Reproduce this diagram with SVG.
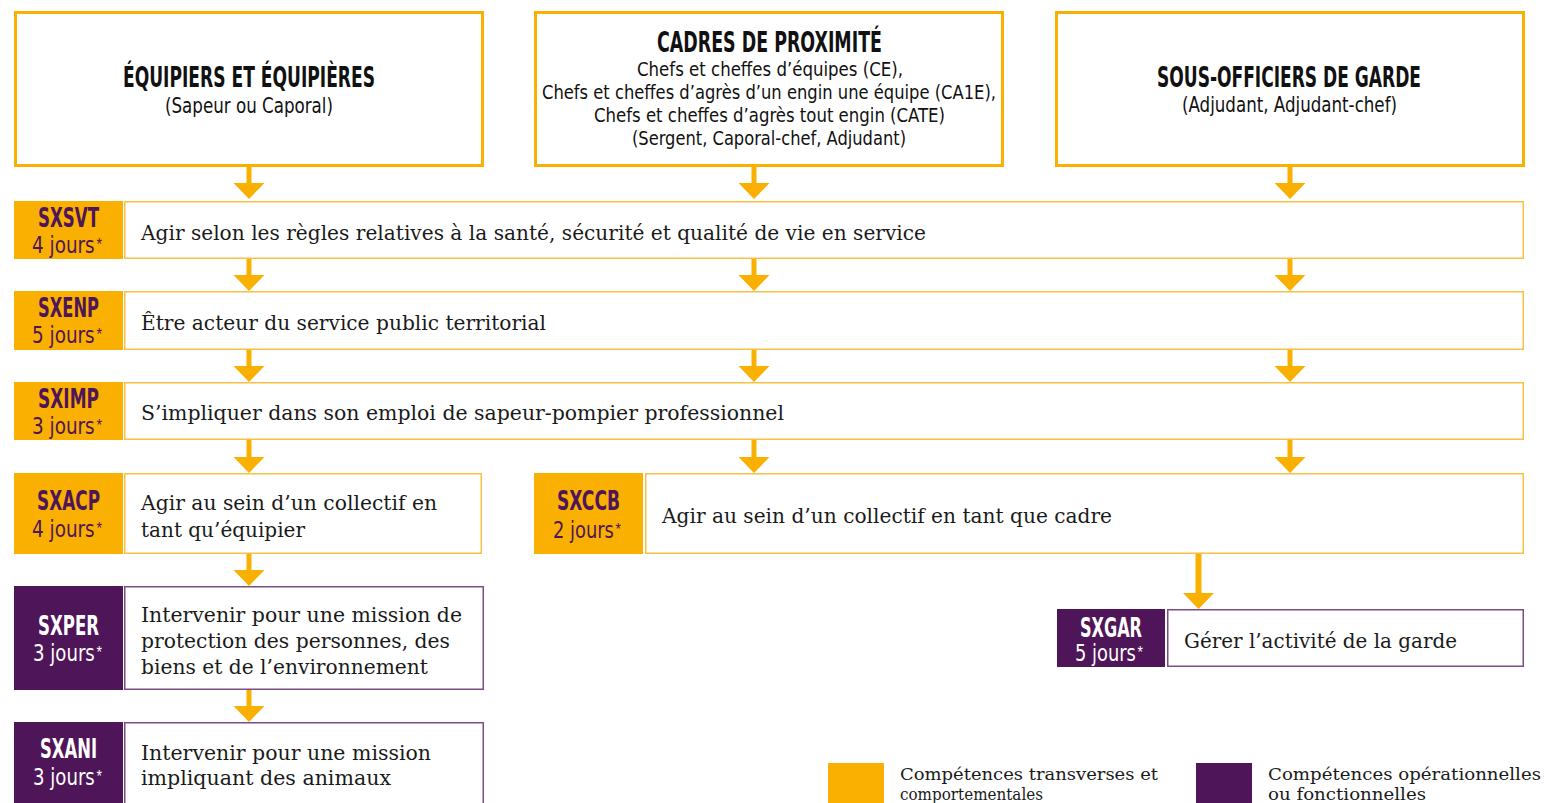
<svg xmlns="http://www.w3.org/2000/svg" width="1544" height="803" viewBox="0 0 1544 803">
<style>
.bg{fill:#ffffff}
.top{fill:#ffffff;stroke:#F9B000;stroke-width:3}
.lo{fill:#F9B000}
.lp{fill:#4F1559}
.to{fill:#ffffff;stroke:#F9C043;stroke-width:1.5}
.tp{fill:#ffffff;stroke:#7B4C86;stroke-width:1.5}
.h{font-family:"Liberation Sans Narrow","DejaVu Sans Condensed","Liberation Sans",sans-serif;font-weight:bold;fill:#111111;text-anchor:middle}
.s{font-family:"Liberation Sans Narrow","DejaVu Sans Condensed","Liberation Sans",sans-serif;fill:#111111;text-anchor:middle}
.code{font-family:"Liberation Sans Narrow","DejaVu Sans Condensed","Liberation Sans",sans-serif;font-weight:bold;font-size:26px}
.days{font-family:"Liberation Sans Narrow","DejaVu Sans Condensed","Liberation Sans",sans-serif;font-size:23px}
.ast{font-family:"Liberation Sans",sans-serif;font-size:16px}
.po{fill:#4F1559}
.pw{fill:#ffffff}
.b{font-family:"DejaVu Serif","Liberation Serif",serif;font-size:20px;fill:#1a1a1a}
.lg{font-family:"DejaVu Serif","Liberation Serif",serif;font-size:17px;fill:#1a1a1a}
.c{stroke:#F9B000;stroke-width:5;fill:none}
</style>
<defs>
<marker id="ah" markerUnits="userSpaceOnUse" markerWidth="16" markerHeight="31" refX="0" refY="15.5" orient="auto">
<path d="M0,0 L16,15.5 L0,31 Z" fill="#F9B000"/>
</marker>
</defs>
<rect class="bg" x="0" y="0" width="1544" height="803"/>

<g id="equipiers">
<rect class="top" x="15.5" y="12.5" width="467" height="153"/>
<text class="h" x="249" y="87" font-size="28" textLength="252" lengthAdjust="spacingAndGlyphs">ÉQUIPIERS ET ÉQUIPIÈRES</text>
<text class="s" x="249" y="113" font-size="21" textLength="168" lengthAdjust="spacingAndGlyphs">(Sapeur ou Caporal)</text>
</g>

<g id="cadres">
<rect class="top" x="535.5" y="12.5" width="467" height="153"/>
<text class="h" x="769.5" y="52" font-size="28" textLength="225" lengthAdjust="spacingAndGlyphs">CADRES DE PROXIMITÉ</text>
<text class="s" x="770" y="76" font-size="20" textLength="266" lengthAdjust="spacingAndGlyphs">Chefs et cheffes d’équipes (CE),</text>
<text class="s" x="769" y="99" font-size="20" textLength="454" lengthAdjust="spacingAndGlyphs">Chefs et cheffes d’agrès d’un engin une équipe (CA1E),</text>
<text class="s" x="769.5" y="122" font-size="20" textLength="351" lengthAdjust="spacingAndGlyphs">Chefs et cheffes d’agrès tout engin (CATE)</text>
<text class="s" x="769" y="145" font-size="20" textLength="274" lengthAdjust="spacingAndGlyphs">(Sergent, Caporal-chef, Adjudant)</text>
</g>

<g id="sousofficiers">
<rect class="top" x="1056.5" y="12.5" width="467" height="153"/>
<text class="h" x="1289" y="87" font-size="28" textLength="264" lengthAdjust="spacingAndGlyphs">SOUS-OFFICIERS DE GARDE</text>
<text class="s" x="1289.5" y="112" font-size="21" textLength="215" lengthAdjust="spacingAndGlyphs">(Adjudant, Adjudant-chef)</text>
</g>

<g id="sxsvt">
<rect class="lo" x="14" y="201" width="109" height="58"/>
<rect class="to" x="124.75" y="201.75" width="1398.5" height="56.5"/>
<text class="code po" x="68.5" y="227" text-anchor="middle" textLength="61" lengthAdjust="spacingAndGlyphs">SXSVT</text>
<text class="days po" x="32" y="253" textLength="70" lengthAdjust="spacingAndGlyphs">4 jours<tspan class="ast" dx="2" dy="-3">*</tspan></text>
<text class="b" x="141" y="240" textLength="785" lengthAdjust="spacingAndGlyphs">Agir selon les règles relatives à la santé, sécurité et qualité de vie en service</text>
</g>

<g id="sxenp">
<rect class="lo" x="14" y="291" width="109" height="59"/>
<rect class="to" x="124.75" y="291.75" width="1398.5" height="57.5"/>
<text class="code po" x="68.5" y="317" text-anchor="middle" textLength="61" lengthAdjust="spacingAndGlyphs">SXENP</text>
<text class="days po" x="32" y="343" textLength="70" lengthAdjust="spacingAndGlyphs">5 jours<tspan class="ast" dx="2" dy="-3">*</tspan></text>
<text class="b" x="141" y="330" textLength="405" lengthAdjust="spacingAndGlyphs">Être acteur du service public territorial</text>
</g>

<g id="sximp">
<rect class="lo" x="14" y="382" width="109" height="58"/>
<rect class="to" x="124.75" y="382.75" width="1398.5" height="56.5"/>
<text class="code po" x="68.5" y="408" text-anchor="middle" textLength="61" lengthAdjust="spacingAndGlyphs">SXIMP</text>
<text class="days po" x="32" y="434" textLength="70" lengthAdjust="spacingAndGlyphs">3 jours<tspan class="ast" dx="2" dy="-3">*</tspan></text>
<text class="b" x="141" y="420" textLength="643" lengthAdjust="spacingAndGlyphs">S’impliquer dans son emploi de sapeur-pompier professionnel</text>
</g>

<g id="sxacp">
<rect class="lo" x="14" y="473" width="109" height="81"/>
<rect class="to" x="124.75" y="473.75" width="356.5" height="79.5"/>
<text class="code po" x="68.5" y="510" text-anchor="middle" textLength="63" lengthAdjust="spacingAndGlyphs">SXACP</text>
<text class="days po" x="32" y="537" textLength="70" lengthAdjust="spacingAndGlyphs">4 jours<tspan class="ast" dx="2" dy="-3">*</tspan></text>
<text class="b" x="141" y="510" textLength="296" lengthAdjust="spacingAndGlyphs">Agir au sein d’un collectif en</text>
<text class="b" x="141" y="537" textLength="164" lengthAdjust="spacingAndGlyphs">tant qu’équipier</text>
</g>

<g id="sxccb">
<rect class="lo" x="534" y="473" width="109" height="81"/>
<rect class="to" x="645.75" y="473.75" width="877.5" height="79.5"/>
<text class="code po" x="588.5" y="510" text-anchor="middle" textLength="63" lengthAdjust="spacingAndGlyphs">SXCCB</text>
<text class="days po" x="553" y="538" textLength="68" lengthAdjust="spacingAndGlyphs">2 jours<tspan class="ast" dx="2" dy="-3">*</tspan></text>
<text class="b" x="662" y="523" textLength="450" lengthAdjust="spacingAndGlyphs">Agir au sein d’un collectif en tant que cadre</text>
</g>

<g id="sxper">
<rect class="lp" x="14" y="586" width="109" height="104"/>
<rect class="tp" x="124.75" y="586.75" width="358.5" height="102.5"/>
<text class="code pw" x="68.5" y="635" text-anchor="middle" textLength="61" lengthAdjust="spacingAndGlyphs">SXPER</text>
<text class="days pw" x="33" y="661" textLength="69" lengthAdjust="spacingAndGlyphs">3 jours<tspan class="ast" dx="2" dy="-3">*</tspan></text>
<text class="b" x="141" y="622" textLength="321" lengthAdjust="spacingAndGlyphs">Intervenir pour une mission de</text>
<text class="b" x="141" y="648" textLength="309" lengthAdjust="spacingAndGlyphs">protection des personnes, des</text>
<text class="b" x="141" y="674" textLength="287" lengthAdjust="spacingAndGlyphs">biens et de l’environnement</text>
</g>

<g id="sxani">
<rect class="lp" x="14" y="722" width="109" height="81"/>
<rect class="tp" x="124.75" y="722.75" width="358.5" height="82"/>
<text class="code pw" x="68.5" y="758" text-anchor="middle" textLength="57" lengthAdjust="spacingAndGlyphs">SXANI</text>
<text class="days pw" x="33" y="785" textLength="69" lengthAdjust="spacingAndGlyphs">3 jours<tspan class="ast" dx="2" dy="-3">*</tspan></text>
<text class="b" x="141" y="760" textLength="290" lengthAdjust="spacingAndGlyphs">Intervenir pour une mission</text>
<text class="b" x="141" y="785" textLength="250" lengthAdjust="spacingAndGlyphs">impliquant des animaux</text>
</g>

<g id="sxgar">
<rect class="lp" x="1057" y="609" width="108" height="58"/>
<rect class="tp" x="1167.75" y="609.75" width="355.5" height="56.5"/>
<text class="code pw" x="1111" y="637" text-anchor="middle" textLength="62" lengthAdjust="spacingAndGlyphs">SXGAR</text>
<text class="days pw" x="1075" y="661" textLength="68" lengthAdjust="spacingAndGlyphs">5 jours<tspan class="ast" dx="2" dy="-3">*</tspan></text>
<text class="b" x="1184" y="648" textLength="273" lengthAdjust="spacingAndGlyphs">Gérer l’activité de la garde</text>
</g>

<g id="connectors">
<line class="c" x1="249" y1="166" x2="249" y2="183" marker-end="url(#ah)"/>
<line class="c" x1="754" y1="166" x2="754" y2="183" marker-end="url(#ah)"/>
<line class="c" x1="1290" y1="166" x2="1290" y2="183" marker-end="url(#ah)"/>
<line class="c" x1="249" y1="259" x2="249" y2="275" marker-end="url(#ah)"/>
<line class="c" x1="754" y1="259" x2="754" y2="275" marker-end="url(#ah)"/>
<line class="c" x1="1290" y1="259" x2="1290" y2="275" marker-end="url(#ah)"/>
<line class="c" x1="249" y1="350" x2="249" y2="366" marker-end="url(#ah)"/>
<line class="c" x1="754" y1="350" x2="754" y2="366" marker-end="url(#ah)"/>
<line class="c" x1="1290" y1="350" x2="1290" y2="366" marker-end="url(#ah)"/>
<line class="c" x1="249" y1="440" x2="249" y2="457" marker-end="url(#ah)"/>
<line class="c" x1="754" y1="440" x2="754" y2="457" marker-end="url(#ah)"/>
<line class="c" x1="1290" y1="440" x2="1290" y2="457" marker-end="url(#ah)"/>
<line class="c" x1="249" y1="554" x2="249" y2="570" marker-end="url(#ah)"/>
<line class="c" x1="249" y1="690" x2="249" y2="706" marker-end="url(#ah)"/>
<line class="c" x1="1198.5" y1="554" x2="1198.5" y2="593" marker-end="url(#ah)" style="stroke-width:6"/>
</g>

<g id="legend">
<rect class="lo" x="828" y="763" width="56" height="40"/>
<text class="lg" x="900" y="780" textLength="258" lengthAdjust="spacingAndGlyphs">Compétences transverses et</text>
<text class="lg" x="900" y="800" textLength="143" lengthAdjust="spacingAndGlyphs">comportementales</text>
<rect class="lp" x="1196" y="763" width="56" height="40"/>
<text class="lg" x="1268" y="780" textLength="273" lengthAdjust="spacingAndGlyphs">Compétences opérationnelles</text>
<text class="lg" x="1268" y="800" textLength="158" lengthAdjust="spacingAndGlyphs">ou fonctionnelles</text>
</g>
</svg>
